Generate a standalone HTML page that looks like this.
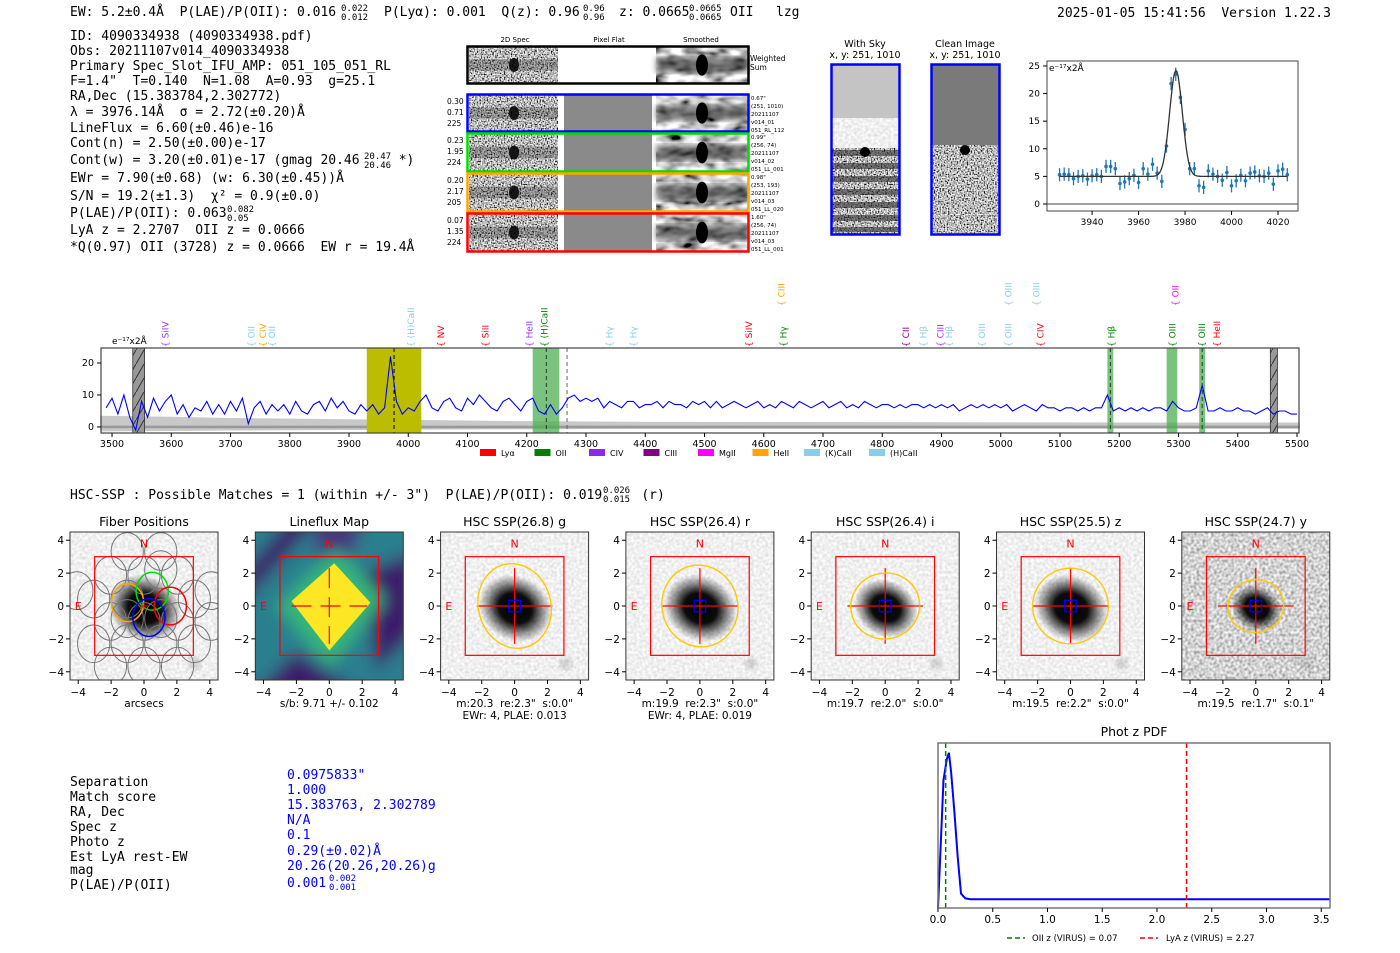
<!DOCTYPE html>
<html><head><meta charset="utf-8"><style>
html,body{margin:0;padding:0;background:#fff;}
svg{display:block;}
svg text{white-space:pre;}
.mono{font-family:"DejaVu Sans Mono","Liberation Mono",monospace;font-size:13px;}
.sans{font-family:"DejaVu Sans","Liberation Sans",sans-serif;}
.tick{font-family:"DejaVu Sans","Liberation Sans",sans-serif;}
</style></head><body>
<svg id="root" width="1400" height="953" viewBox="0 0 1400 953" xmlns="http://www.w3.org/2000/svg">
<defs>
<filter id="nHi" x="0" y="0" width="1" height="1"><feTurbulence type="fractalNoise" baseFrequency="0.7" numOctaves="1" seed="3"/><feColorMatrix type="matrix" values="2.6 0 0 0 -0.8  2.6 0 0 0 -0.8  2.6 0 0 0 -0.8  0 0 0 0 1"/></filter>
<filter id="nLo" x="0" y="0" width="1" height="1"><feTurbulence type="fractalNoise" baseFrequency="0.06 0.12" numOctaves="2" seed="5"/><feColorMatrix type="matrix" values="2.0 0 0 0 -0.4  2.0 0 0 0 -0.4  2.0 0 0 0 -0.4  0 0 0 0 1"/></filter>
<filter id="nSoft" x="0" y="0" width="1" height="1"><feTurbulence type="fractalNoise" baseFrequency="0.35" numOctaves="1" seed="8"/><feColorMatrix type="matrix" values="0.5 0 0 0 0.62  0.5 0 0 0 0.62  0.5 0 0 0 0.62  0 0 0 0 1"/></filter>
<filter id="nSoftY" x="0" y="0" width="1" height="1"><feTurbulence type="fractalNoise" baseFrequency="0.35" numOctaves="1" seed="9"/><feColorMatrix type="matrix" values="1.2 0 0 0 0.05  1.2 0 0 0 0.05  1.2 0 0 0 0.05  0 0 0 0 1"/></filter>
<filter id="blur3"><feGaussianBlur stdDeviation="3"/></filter>
<filter id="blur6"><feGaussianBlur stdDeviation="8"/></filter>
<radialGradient id="blob"><stop offset="0" stop-color="#000" stop-opacity="1"/><stop offset="0.45" stop-color="#000" stop-opacity="0.95"/><stop offset="0.75" stop-color="#000" stop-opacity="0.4"/><stop offset="1" stop-color="#000" stop-opacity="0"/></radialGradient>
<pattern id="hatch" width="8" height="14" patternUnits="userSpaceOnUse"><rect width="8" height="14" fill="#999"/><line x1="0" y1="14" x2="8" y2="0" stroke="#333" stroke-width="1"/></pattern>
</defs>

<g>
<text class="mono" x="70" y="16">EW: 5.2±0.4Å  P(LAE)/P(OII): 0.016</text>
<text class="mono" x="341" y="11" style="font-size:9px">0.022</text><text class="mono" x="341" y="20" style="font-size:9px">0.012</text>
<text class="mono" x="384" y="16">P(Lyα): 0.001  Q(z): 0.96</text>
<text class="mono" x="583" y="11" style="font-size:9px">0.96</text><text class="mono" x="583" y="20" style="font-size:9px">0.96</text>
<text class="mono" x="619" y="16">z: 0.0665</text>
<text class="mono" x="689" y="11" style="font-size:9px">0.0665</text><text class="mono" x="689" y="20" style="font-size:9px">0.0665</text>
<text class="mono" x="730" y="16">OII</text>
<text class="mono" x="776" y="16">lzg</text>
<text class="mono" x="1057" y="17">2025-01-05 15:41:56  Version 1.22.3</text>
</g>

<g>
<text class="mono" x="70" y="40">ID: 4090334938 (4090334938.pdf)</text>
<text class="mono" x="70" y="55">Obs: 20211107v014_4090334938</text>
<text class="mono" x="70" y="70">Primary Spec_Slot_IFU_AMP: 051_105_051_RL</text>
<text class="mono" x="70" y="85">F=1.4"  T=0.140  N=1.08  A=0.93  g=25.1</text>
<text class="mono" x="70" y="100">RA,Dec (15.383784,2.302772)</text>
<text class="mono" x="70" y="116">λ = 3976.14Å  σ = 2.72(±0.20)Å</text>
<text class="mono" x="70" y="132">LineFlux = 6.60(±0.46)e-16</text>
<text class="mono" x="70" y="147">Cont(n) = 2.50(±0.00)e-17</text>
<text class="mono" x="70" y="164">Cont(w) = 3.20(±0.01)e-17 (gmag 20.46     *)</text>
<text class="mono" x="364" y="159" style="font-size:9px">20.47</text><text class="mono" x="364" y="168" style="font-size:9px">20.46</text>
<text class="mono" x="70" y="182">EWr = 7.90(±0.68) (w: 6.30(±0.45))Å</text>
<text class="mono" x="70" y="200">S/N = 19.2(±1.3)  χ² = 0.9(±0.0)</text>
<text class="mono" x="70" y="217">P(LAE)/P(OII): 0.063</text>
<text class="mono" x="227" y="212" style="font-size:9px">0.082</text><text class="mono" x="227" y="221" style="font-size:9px">0.05</text>
<text class="mono" x="70" y="234">LyA z = 2.2707  OII z = 0.0666</text>
<text class="mono" x="70" y="251">*Q(0.97) OII (3728) z = 0.0666  EW r = 19.4Å</text>
</g>

<g class="sans">
<text x="515" y="42" font-size="7" text-anchor="middle">2D Spec</text>
<text x="609" y="42" font-size="7" text-anchor="middle">Pixel Flat</text>
<text x="701" y="42" font-size="7" text-anchor="middle">Smoothed</text>
<g id="specrows"></g>
</g>

<g class="sans">
<text x="865" y="47" font-size="9.5" text-anchor="middle">With Sky</text>
<text x="865" y="58" font-size="9.5" text-anchor="middle">x, y: 251, 1010</text>
<text x="965" y="47" font-size="9.5" text-anchor="middle">Clean Image</text>
<text x="965" y="58" font-size="9.5" text-anchor="middle">x, y: 251, 1010</text>
<rect x="832" y="65" width="67" height="53" fill="#c4c4c4"/>
<rect x="832" y="118" width="67" height="30" filter="url(#nSoft)"/>
<rect x="832" y="148" width="67" height="86" filter="url(#nHi)"/>
<g fill="#222" opacity="0.55"><rect x="832" y="150" width="67" height="6"/><rect x="832" y="163" width="67" height="6"/><rect x="832" y="176" width="67" height="6"/><rect x="832" y="189" width="67" height="6"/><rect x="832" y="202" width="67" height="6"/><rect x="832" y="215" width="67" height="6"/><rect x="832" y="227" width="67" height="5"/></g>
<circle cx="865" cy="152" r="5" fill="#000"/>
<rect x="831.5" y="64.5" width="68" height="170" fill="none" stroke="#0000ff" stroke-width="2.5"/>
<rect x="932" y="65" width="67" height="80" fill="#7a7a7a"/>
<rect x="932" y="145" width="67" height="89" filter="url(#nHi)"/>
<circle cx="965" cy="150" r="5" fill="#000"/>
<rect x="931.5" y="64.5" width="68" height="170" fill="none" stroke="#0000ff" stroke-width="2.5"/>
</g>

<g id="gauss"></g>
<g id="spec"></g>

<text class="mono" x="70" y="499">HSC-SSP : Possible Matches = 1 (within +/- 3")  P(LAE)/P(OII): 0.019     (r)</text>
<text class="mono" x="603" y="493" style="font-size:9px">0.026</text><text class="mono" x="603" y="502" style="font-size:9px">0.015</text>

<g id="cutouts"></g>

<g>
<text class="mono" x="70" y="786">Separation</text><text class="mono" x="287" y="779" style="fill:#00f">0.0975833"</text>
<text class="mono" x="70" y="801">Match score</text><text class="mono" x="287" y="794" style="fill:#00f">1.000</text>
<text class="mono" x="70" y="816">RA, Dec</text><text class="mono" x="287" y="809" style="fill:#00f">15.383763, 2.302789</text>
<text class="mono" x="70" y="831">Spec z</text><text class="mono" x="287" y="824" style="fill:#00f">N/A</text>
<text class="mono" x="70" y="846">Photo z</text><text class="mono" x="287" y="839" style="fill:#00f">0.1</text>
<text class="mono" x="70" y="861">Est LyA rest-EW</text><text class="mono" x="287" y="855" style="fill:#00f">0.29(±0.02)Å</text>
<text class="mono" x="70" y="874">mag</text><text class="mono" x="287" y="870" style="fill:#00f">20.26(20.26,20.26)g</text>
<text class="mono" x="70" y="889">P(LAE)/P(OII)</text><text class="mono" x="287" y="887" style="fill:#00f">0.001</text>
<text class="mono" x="329" y="881" style="font-size:9px;fill:#00f">0.002</text><text class="mono" x="329" y="890" style="font-size:9px;fill:#00f">0.001</text>
</g>

<g id="photz"></g>
</svg>

<script>
var specWaveStart = 3490, specWaveStep = 10;
var specFlux = [
6,9,4,10,3,-1,8,3,9,5,
8,10,4,7,3,6,5,8,4,7,
4,8,5,9,1,6,8,4,7,5,
7,4,8,5,4,7,8,5,9,6,
8,5,4,7,5,7,4,6,22,8,
4,6,5,8,10,6,5,8,9,6,
5,9,7,10,8,6,5,8,9,7,
5,8,9,5,4,7,4,6,9,10,
8,9,8,9,6,8,7,6,8,8,
6,7,7,8,6,8,7,7,6,8,
7,8,6,8,6,7,8,7,6,7,
8,6,7,6,8,7,6,8,7,6,
7,8,6,7,8,6,7,6,8,7,
6,7,7,6,7,6,7,7,6,7,
6,7,6,7,5,6,7,6,7,6,
7,6,7,5,6,7,6,5,7,6,
6,5,6,6,5,6,5,6,6,10,
5,6,5,6,5,6,5,6,6,5,
8,6,5,5,6,13,5,5,6,5,
5,6,5,5,4,5,6,4,5,5,
4,4];
var errWaves = [3480,3600,3700,3800,3900,4000,4200,4400,4800,5200,5505];
var errVals  = [3.5,3.2,2.8,2.6,2.4,2.2,1.8,1.6,1.5,1.4,1.4];
var specTicks = [3500,3600,3700,3800,3900,4000,4100,4200,4300,4400,4500,4600,4700,4800,4900,5000,5100,5200,5300,5400,5500];
var specYTicks = [0,10,20];
var lineLabels = [
 ["SiIV",3590,0,"#9b30ff"],["OII",3735,0,"#87ceeb"],["CIV",3755,0,"#ffa500"],["OII",3770,0,"#87ceeb"],
 ["(H)CaII",4005,0,"#87ceeb"],["NV",4055,0,"#ff0000"],["SiII",4130,0,"#ff0000"],["HeII",4205,0,"#9b30ff"],["(H)CaII",4230,0,"#008000"],
 ["Hγ",4340,0,"#87ceeb"],["Hγ",4380,0,"#87ceeb"],["SiIV",4575,0,"#ff0000"],["Hγ",4633,0,"#008000"],["CIII",4630,1,"#ffa500"],
 ["CII",4840,0,"#800080"],["Hβ",4870,0,"#87ceeb"],["CIII",4898,0,"#9b30ff"],["Hβ",4913,0,"#87ceeb"],["OIII",4968,0,"#87ceeb"],
 ["OIII",5013,0,"#87ceeb"],["OIII",5013,1,"#87ceeb"],["OIII",5060,1,"#87ceeb"],["CIV",5067,0,"#ff0000"],["Hβ",5187,0,"#008000"],
 ["OIII",5290,0,"#008000"],["OII",5295,1,"#ff00ff"],["OIII",5340,0,"#008000"],["HeII",5365,0,"#ff0000"]];
var legendNames = ["Lyα","OII","CIV","CIII","MgII","HeII","(K)CaII","(H)CaII"];
var legendColors = ["#ff0000","#008000","#8a2be2","#800080","#ff00ff","#ffa500","#87ceeb","#87ceeb"];

var fitWaves = [3926,3928,3930,3932,3934,3936,3938,3940,3942,3944,3946,3948,3950,3952,3954,3956,3958,3960,3962,3964,3966,3968,3970,3972,3974,3976,3978,3980,3982,3984,3986,3988,3990,3992,3994,3996,3998,4000,4002,4004,4006,4008,4010,4012,4014,4016,4018,4020,4022,4024];
var fitFlux = [5.3,5.4,5.3,4.6,5.0,5.1,4.5,5.1,5.3,5.0,6.8,6.8,6.4,3.7,4.0,4.6,5.2,3.9,6.4,5.4,7.2,5.6,4.1,10.5,21.8,23.5,19.3,13.5,6.4,6.4,3.3,3.0,6.0,5.4,5.0,4.3,5.7,3.3,4.2,5.2,4.2,5.6,5.8,5.1,5.0,5.6,3.6,6.0,6.3,5.3];
var fitErr = 1.2;
var fitParams = [19.2, 3976.1, 2.72, 5.0];
var fitXTicks = [3940,3960,3980,4000,4020];
var fitYTicks = [0,5,10,15,20,25];

var pdfZ = [0.0,0.05,0.08,0.10,0.12,0.15,0.18,0.21,0.25,0.30,0.5,1.0,1.5,2.0,2.5,3.0,3.58];
var pdfP = [0.0,0.80,0.93,0.97,0.85,0.60,0.32,0.09,0.06,0.055,0.055,0.055,0.055,0.055,0.055,0.055,0.055];
var pdfXTicks = [0.0,0.5,1.0,1.5,2.0,2.5,3.0,3.5];
var oiiZ = 0.07, lyaZ = 2.27;

var cutTitles = ["Fiber Positions","Lineflux Map","HSC SSP(26.8) g","HSC SSP(26.4) r","HSC SSP(26.4) i","HSC SSP(25.5) z","HSC SSP(24.7) y"];
var cutLabel1 = ["arcsecs","s/b: 9.71 +/- 0.102",'m:20.3  re:2.3"  s:0.0"','m:19.9  re:2.3"  s:0.0"','m:19.7  re:2.0"  s:0.0"','m:19.5  re:2.2"  s:0.0"','m:19.5  re:1.7"  s:0.1"'];
var cutLabel2 = ["","","EWr: 4, PLAE: 0.013","EWr: 4, PLAE: 0.019","","",""];
var ellRx = [0,0,2.2,2.3,2.1,2.3,1.7];
var ellRy = [0,0,2.6,2.5,2.0,2.3,1.6];

var NS='http://www.w3.org/2000/svg';
function mk(tag, attrs, parent){var e=document.createElementNS(NS,tag);for(var k in attrs)e.setAttribute(k,attrs[k]);if(parent)parent.appendChild(e);return e;}
function txt(parent,x,y,s,attrs){var a=Object.assign({x:x,y:y,'font-size':10,fill:'#000'},attrs||{});var e=mk('text',a,parent);e.textContent=s;return e;}

(function(){
 var g=document.getElementById('specrows');
 var rows=[[46,38,'#000',null],[94,38,'#0000ff',['0.30','0.71','225'],['0.67"','(251, 1010)','20211107','v014_01','051_RL_112']],
  [133,39,'#00dd00',['0.23','1.95','224'],['0.99"','(256, 74)','20211107','v014_02','051_LL_001']],
  [173,39,'#ffa500',['0.20','2.17','205'],['0.98"','(253, 193)','20211107','v014_03','051_LL_020']],
  [213,39,'#ff0000',['0.07','1.35','224'],['1.60"','(256, 74)','20211107','v014_03','051_LL_001']]];
 rows.forEach(function(r,i){
  var y=r[0],h=r[1];
  mk('rect',{x:469,y:y,width:89,height:h,filter:'url(#nHi)'},g);
  mk('rect',{x:469,y:y+h*0.35,width:89,height:h*0.3,fill:'#000',opacity:0.25},g);
  mk('ellipse',{cx:514,cy:y+h/2,rx:5,ry:7,fill:'#000',opacity:0.85},g);
  if(i==0){mk('rect',{x:559,y:y,width:97,height:h,fill:'#fff'},g);}
  else{mk('rect',{x:559,y:y,width:5,height:h,fill:'#fff'},g);mk('rect',{x:564,y:y,width:88,height:h,fill:'#8a8a8a'},g);mk('rect',{x:652,y:y,width:4,height:h,fill:'#fff'},g);}
  mk('rect',{x:656,y:y,width:92,height:h,filter:'url(#nLo)'},g);
  mk('rect',{x:656,y:y+h*0.3,width:92,height:h*0.4,fill:'#000',opacity:0.5,filter:'url(#blur3)'},g);
  mk('ellipse',{cx:702,cy:y+h/2,rx:6,ry:h*0.28,fill:'#000'},g);
  mk('rect',{x:467.5,y:y+0.5,width:281,height:h-1,fill:'none',stroke:r[2],'stroke-width':2.5},g);
  if(i==0){txt(g,750,y+15,'Weighted',{'font-size':7.5});txt(g,750,y+24,'Sum',{'font-size':7.5});}
  else{r[3].forEach(function(s,j){txt(g,447,y+10+j*11,s,{'font-size':7.5});});
   r[4].forEach(function(s,j){txt(g,751,y+6+j*8,s,{'font-size':5.5});});}
 });
})();

(function(){
 var g=document.getElementById('gauss');
 var L=1047,R=1298,T=61,B=211,x0=3920.6,x1=4028.6,y0=-1.27,y1=25.9;
 function X(v){return L+(v-x0)/(x1-x0)*(R-L);} function Y(v){return B-(v-y0)/(y1-y0)*(B-T);}
 mk('line',{x1:L,x2:R,y1:Y(0),y2:Y(0),stroke:'#444','stroke-width':1},g);
 for(var i=0;i<fitWaves.length;i++){
  var p=mk('line',{x1:X(fitWaves[i]),x2:X(fitWaves[i]),y1:Y(fitFlux[i]-fitErr),y2:Y(fitFlux[i]+fitErr),stroke:'#1f77b4','stroke-width':1.3},g);
  
  
  var c=mk('circle',{cx:X(fitWaves[i]),cy:Y(fitFlux[i]),r:1.8,fill:'#1f77b4'},g);
  
  
 }
 var d='';for(var w=3926;w<=4024;w+=0.5){var v=fitParams[3]+fitParams[0]*Math.exp(-Math.pow(w-fitParams[1],2)/(2*fitParams[2]*fitParams[2]));d+=(d?'L':'M')+X(w).toFixed(1)+','+Y(v).toFixed(1);}
 var fl=mk('path',{d:d,fill:'none',stroke:'#333','stroke-width':1.3},g);
 
 
 mk('rect',{x:L,y:T,width:R-L,height:B-T,fill:'none',stroke:'#444','stroke-width':1},g);
 fitXTicks.forEach(function(t){mk('line',{x1:X(t),x2:X(t),y1:B,y2:B+4,stroke:'#000'},g);txt(g,X(t),B+14,t,{'class':'tick','text-anchor':'middle','font-size':9});});
 fitYTicks.forEach(function(t){mk('line',{x1:L-4,x2:L,y1:Y(t),y2:Y(t),stroke:'#000'},g);txt(g,L-7,Y(t)+3,t,{'class':'tick','text-anchor':'end','font-size':9});});
 txt(g,L+2,T+10,'e⁻¹⁷x2Å',{'class':'tick','font-size':9});
})();

(function(){
 var g=document.getElementById('spec');
 var L=101,R=1299,T=348,B=433,x0=3481.4,x1=5503.4,y0=-1.9,y1=24.7;
 function X(v){return L+(v-x0)/(x1-x0)*(R-L);} function Y(v){return B-(v-y0)/(y1-y0)*(B-T);}
 var d='M'+X(errWaves[0])+','+Y(-errVals[0]*0.35);
 errWaves.forEach(function(w,i){d+='L'+X(w)+','+Y(errVals[i]);});
 for(var i=errWaves.length-1;i>=0;i--)d+='L'+X(errWaves[i])+','+Y(-errVals[i]*0.4);
 mk('path',{d:d+'Z',fill:'#c8c8c8'},g);
 mk('rect',{x:L,y:Y(0.4),width:R-L,height:Y(-0.4)-Y(0.4),fill:'#999'},g);
 [[3930,4022,'#bcbc00',1],[4210,4255,'#4caf50',0.75],[5180,5190,'#4caf50',0.75],[5280,5298,'#4caf50',0.75],[5335,5345,'#4caf50',0.75]].forEach(function(b){
  var r=mk('rect',{x:X(b[0]),y:T,width:X(b[1])-X(b[0]),height:B-T,fill:b[2],opacity:b[3]},g);
  
  
 });
 [[3535,3555],[5455,5467]].forEach(function(b){mk('rect',{x:X(b[0]),y:T,width:X(b[1])-X(b[0]),height:B-T,fill:'url(#hatch)',stroke:'#333','stroke-width':0.8},g);});
 [[3976,'#000'],[4233,'#333'],[4268,'#666'],[5185,'#333'],[5340,'#333']].forEach(function(v){mk('line',{x1:X(v[0]),x2:X(v[0]),y1:T,y2:B,stroke:v[1],'stroke-width':1,'stroke-dasharray':'4,3'},g);});
 var p='';specFlux.forEach(function(v,i){var w=specWaveStart+i*specWaveStep;p+=(p?'L':'M')+X(w).toFixed(1)+','+Y(v).toFixed(1);});
 var ln=mk('path',{d:p,fill:'none',stroke:'#0000ff','stroke-width':1.1},g);
 
 
 mk('rect',{x:L,y:T,width:R-L,height:B-T,fill:'none',stroke:'#444','stroke-width':1.2},g);
 specTicks.forEach(function(t){mk('line',{x1:X(t),x2:X(t),y1:B,y2:B+4,stroke:'#000'},g);txt(g,X(t),B+14,t,{'class':'tick','text-anchor':'middle','font-size':9.5});});
 specYTicks.forEach(function(t){mk('line',{x1:L-4,x2:L,y1:Y(t),y2:Y(t),stroke:'#000'},g);txt(g,L-7,Y(t)+3,t,{'class':'tick','text-anchor':'end','font-size':9.5});});
 txt(g,L+11,T-4,'e⁻¹⁷x2Å',{'class':'tick','font-size':9});
 lineLabels.forEach(function(l){
  var x=X(l[1]),yb=l[2]?306:347;
  var t=txt(g,0,0,'{ '+l[0],{'class':'tick','font-size':9,fill:l[3],transform:'translate('+(x+3)+','+yb+') rotate(-90)'});
  
  
 });
 legendNames.forEach(function(n,i){
  var x=480+i*54.5;if(i==7)x=869;if(i==6)x=804;
  var r=mk('rect',{x:x,y:449,width:16,height:7,fill:legendColors[i]},g);
  
  
  txt(g,x+21,456,n,{'class':'tick','font-size':8});
 });
})();

(function(){
 var g=document.getElementById('cutouts');
 var U=148/9;
 cutTitles.forEach(function(title,i){
  var L=70+i*185.3,T=532,cx=L+74,cy=606;
  function X(v){return cx+v*U;} function Y(v){return cy-v*U;}
  var pg=mk('g',{},g);
  
  
  var cp=mk('clipPath',{id:'cp'+i},pg);mk('rect',{x:L,y:T,width:148,height:148},cp);
  var ig=mk('g',{'clip-path':'url(#cp'+i+')'},pg);
  if(i==1){
   var bg=mk('g',{filter:'url(#blur6)'},ig);
   mk('rect',{x:L-20,y:T-20,width:190,height:190,fill:'#2c7f8e'},bg);
   mk('path',{d:'M'+(L-20)+','+(T+50)+' l60,-70 l30,0 l-90,100 Z',fill:'#3b1c6a'},bg);
   mk('path',{d:'M'+(L+110)+','+(T+40)+' l50,-20 l0,80 l-40,40 Z',fill:'#3b1c6a'},bg);
   mk('path',{d:'M'+(L-10)+','+(T+170)+' l50,-50 l80,50 Z',fill:'#3b1c6a'},bg);
   mk('path',{d:'M'+(L+60)+','+(T-10)+' l50,0 l-15,35 l-35,0 Z',fill:'#46327e'},bg);
   mk('polygon',{points:[X(-3.2)+','+Y(0),X(0.4)+','+Y(3.5),X(3.4)+','+Y(0.4),X(0)+','+Y(-3.7)].join(' '),fill:'#35b779'},bg);
   mk('polygon',{points:[X(-2.3)+','+Y(0.3),X(0.3)+','+Y(2.6),X(2.5)+','+Y(0.2),X(0)+','+Y(-2.7)].join(' '),fill:'#fde725'},ig);
  } else {
   mk('rect',{x:L,y:T,width:148,height:148,filter:i==6?'url(#nSoftY)':'url(#nSoft)'},ig);
   var rb=i==6?1.6:(i==4?2.0:2.3);
   mk('ellipse',{cx:X(0.1),cy:Y(-0.1),rx:rb*U,ry:rb*0.85*U,fill:'url(#blob)',transform:'rotate(30 '+X(0)+' '+Y(0)+')'},ig);
   mk('circle',{cx:X(3.1),cy:Y(-3.5),r:6,fill:'#000',opacity:0.15,filter:'url(#blur3)'},ig);
  }
  if(i==0){
   var fib=[[-1.2,3.9],[1.2,3.9],[-2.4,2.2],[0,2.2],[2.4,2.2],[-3.6,0.5],[-1.2,0.5],[3.6,0.5],[-2.4,-1.1],[0,-1.1],[2.4,-1.1],[-3.6,-2.7],[-1.2,-2.7],[1.2,-2.7],[3.6,-2.7],[-2.4,-4.3],[0,-4.3],[2.4,-4.3],[1.2,2.6],[-1.2,-0.9],[1.2,-0.9],[4.8,-1.1],[4.8,1.1],[-4.8,1.1]];
   fib.forEach(function(f){mk('ellipse',{cx:X(f[0]*0.85),cy:Y(f[1]*0.85),rx:0.98*U,ry:1.15*U,fill:'none',stroke:'#777','stroke-width':1},ig);});
   [[-1.0,0.2,'#ffa500'],[0.5,0.9,'#00dd00'],[1.6,0,'#ff0000'],[0.3,-0.7,'#0000ff']].forEach(function(f){mk('ellipse',{cx:X(f[0]),cy:Y(f[1]),rx:0.98*U,ry:1.15*U,fill:'none',stroke:f[2],'stroke-width':1.5},ig);});
   txt(ig,X(0),Y(0)+4,'+',{'class':'tick',fill:'#f00','font-size':12,'text-anchor':'middle'});
  }
  mk('rect',{x:X(-3),y:Y(3),width:6*U,height:6*U,fill:'none',stroke:'#ff0000','stroke-width':1.2},ig);
  if(i>=1){
   mk('line',{x1:X(-2.3),x2:X(2.3),y1:Y(0),y2:Y(0),stroke:'#f00','stroke-width':1.2,'stroke-dasharray':i==1?'20,9':'none'},ig);
   mk('line',{x1:X(0),x2:X(0),y1:Y(2.3),y2:Y(-2.3),stroke:'#f00','stroke-width':1.2,'stroke-dasharray':i==1?'20,9':'none'},ig);
  }
  if(i>=2){
   var el=mk('ellipse',{cx:X(0),cy:Y(0),rx:ellRx[i]*U,ry:ellRy[i]*U,fill:'none',stroke:'#ffc800','stroke-width':1.4,transform:'rotate(-15 '+X(0)+' '+Y(0)+')'},ig);
   
   
   mk('rect',{x:X(-0.35),y:Y(0.35),width:0.7*U,height:0.7*U,fill:'none',stroke:'#0000ff','stroke-width':1.3},ig);
  }
  txt(ig,X(0),Y(3.8)+4,'N',{'class':'tick',fill:'#f00','font-size':11,'text-anchor':'middle'});
  txt(ig,X(-4),Y(0)+4,'E',{'class':'tick',fill:'#f00','font-size':11,'text-anchor':'middle'});
  mk('rect',{x:L,y:T,width:148,height:148,fill:'none',stroke:'#333','stroke-width':1},pg);
  [-4,-2,0,2,4].forEach(function(t){
   mk('line',{x1:X(t),x2:X(t),y1:T+148,y2:T+152,stroke:'#000'},pg);
   txt(pg,X(t),T+164,(t<0?'−':'')+Math.abs(t),{'class':'tick','text-anchor':'middle','font-size':10.5});
   mk('line',{x1:L-4,x2:L,y1:Y(t),y2:Y(t),stroke:'#000'},pg);
   txt(pg,L-6,Y(t)+4,(t<0?'−':'')+Math.abs(t),{'class':'tick','text-anchor':'end','font-size':10.5});
  });
  txt(pg,cx,526,title,{'class':'tick','text-anchor':'middle','font-size':12.5});
  txt(pg,cx,707,cutLabel1[i],{'class':'tick','text-anchor':'middle','font-size':10.5});
  if(cutLabel2[i])txt(pg,cx,719,cutLabel2[i],{'class':'tick','text-anchor':'middle','font-size':10.5});
 });
})();

(function(){
 var g=document.getElementById('photz');
 var L=938,R=1330,T=743,B=908,x0=0,x1=3.58;
 function X(v){return L+(v-x0)/(x1-x0)*(R-L);} function Y(v){return B-v*(B-T-5)/1.0;}
 txt(g,(L+R)/2,736,'Phot z PDF',{'class':'tick','text-anchor':'middle','font-size':12.5});
 var d='';pdfZ.forEach(function(z,i){d+=(d?'L':'M')+X(z).toFixed(1)+','+Y(pdfP[i]).toFixed(1);});
 var pl=mk('path',{d:d,fill:'none',stroke:'#0000ff','stroke-width':2},g);
 
 
 var a=mk('line',{x1:X(oiiZ),x2:X(oiiZ),y1:T,y2:B,stroke:'#008000','stroke-width':1.5,'stroke-dasharray':'5,3'},g);
 
 
 var b=mk('line',{x1:X(lyaZ),x2:X(lyaZ),y1:T,y2:B,stroke:'#ff0000','stroke-width':1.5,'stroke-dasharray':'5,3'},g);
 
 
 mk('rect',{x:L,y:T,width:R-L,height:B-T,fill:'none',stroke:'#777','stroke-width':1.5},g);
 pdfXTicks.forEach(function(t){mk('line',{x1:X(t),x2:X(t),y1:B,y2:B+4,stroke:'#000'},g);txt(g,X(t),B+15,t.toFixed(1),{'class':'tick','text-anchor':'middle','font-size':10.5});});
 mk('line',{x1:1007,x2:1025,y1:938,y2:938,stroke:'#008000','stroke-width':1.5,'stroke-dasharray':'5,3'},g);
 txt(g,1032,941,'OII z (VIRUS) = 0.07',{'class':'tick','font-size':8.5});
 mk('line',{x1:1140,x2:1158,y1:938,y2:938,stroke:'#ff0000','stroke-width':1.5,'stroke-dasharray':'5,3'},g);
 txt(g,1166,941,'LyA z (VIRUS) = 2.27',{'class':'tick','font-size':8.5});
})();
</script>
</body></html>
